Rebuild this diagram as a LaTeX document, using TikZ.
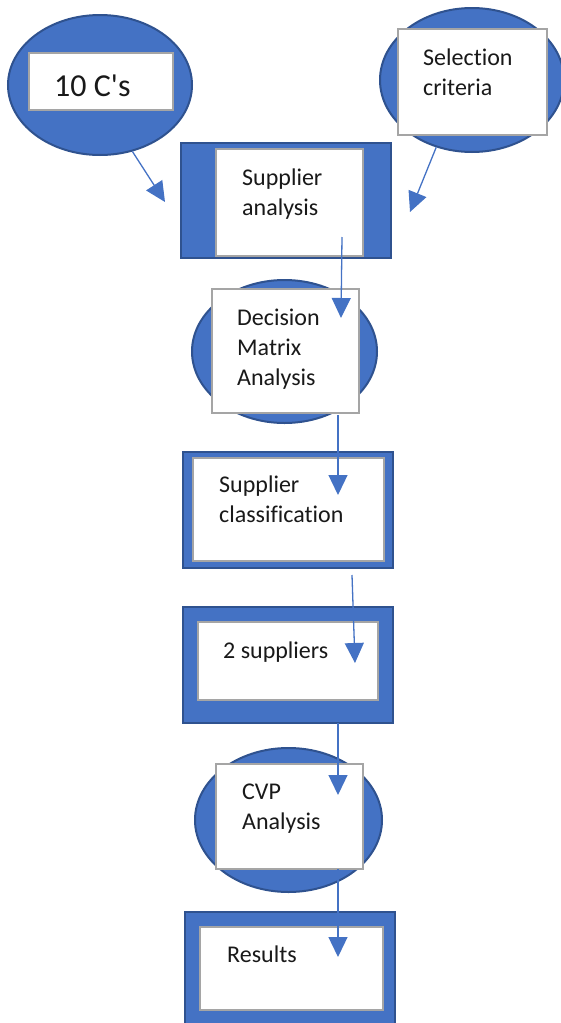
\documentclass[tikz,border=0pt]{standalone}
\usepackage{fontspec}
\setmainfont{Carlito}[Ligatures={TeXOff,CommonOff}]
\usepackage{xcolor}
\definecolor{scblue}{HTML}{4472C4}
\definecolor{scedge}{HTML}{2F528F}
\definecolor{scgrey}{HTML}{A5A5A5}
\usetikzlibrary{arrows.meta,shapes.geometric}
\tikzset{
  scoval/.style={ellipse,draw=scedge,line width=2pt,fill=scblue,inner sep=0pt},
  scframe/.style={rectangle,draw=scedge,line width=1.5pt,fill=scblue,inner sep=0pt},
  scpanel/.style={rectangle,draw=scgrey,line width=1.2pt,fill=white,inner sep=0pt},
  sctext/.style={anchor=base west,inner sep=0pt,align=left,font=\fontsize{24}{30}\selectfont,text=black!90},
  scflow/.style={-{Triangle[length=20pt,width=19pt]},draw=scblue,line width=1.3pt},
}

\begin{document}
\begin{tikzpicture}[x=1pt,y=-1pt]
\useasboundingbox (0,0) rectangle (560,1023);
 % inputs
\node[scoval,minimum width=184pt,minimum height=140pt] (tenCell) at (100,85) {};
\node[scpanel,minimum width=144pt,minimum height=57pt] (tenCbox) at (101,81.5) {};
\node[sctext,font=\fontsize{32}{38}\selectfont] (tenC) at (54,96) {10 C's};
\node[scoval,minimum width=184pt,minimum height=144pt] (critell) at (472,80) {};
\node[scpanel,minimum width=149pt,minimum height=106pt] (critbox) at (472.5,82) {};
\node[sctext] (crit) at (423,95) {Selection\\criteria};
 % supplier analysis
\node[scframe,minimum width=210pt,minimum height=115pt] (saframe) at (286,200.5) {};
\node[scpanel,minimum width=147pt,minimum height=107pt] (sabox) at (289.5,202.5) {};
\node[sctext] (sa) at (242,215) {Supplier\\analysis};
 % decision matrix
\node[scoval,minimum width=185pt,minimum height=143pt] (dmell) at (284.5,351.5) {};
\node[scpanel,minimum width=147pt,minimum height=124pt] (dmbox) at (285.5,351) {};
\node[sctext] (dm) at (237,385) {Decision\\Matrix\\Analysis};
 % classification
\node[scframe,minimum width=210pt,minimum height=116pt] (scframe) at (288,510) {};
\node[scpanel,minimum width=191pt,minimum height=103pt] (scbox) at (288.5,509.5) {};
\node[sctext] (sc) at (219,522) {Supplier\\classification};
 % two suppliers
\node[scframe,minimum width=210pt,minimum height=116pt] (twoframe) at (288,665) {};
\node[scpanel,minimum width=180pt,minimum height=78pt] (twobox) at (288,661) {};
\node[sctext] (two) at (223,658) {2 suppliers};
 % cvp
\node[scoval,minimum width=187pt,minimum height=144pt] (cvpell) at (288.5,820) {};
\node[scpanel,minimum width=147pt,minimum height=105pt] (cvpbox) at (289.5,816.5) {};
\node[sctext] (cvp) at (242,829) {CVP\\Analysis};
 % results
\node[scframe,minimum width=210pt,minimum height=116pt] (resframe) at (290,970) {};
\node[scpanel,minimum width=183pt,minimum height=83pt] (resbox) at (291.5,968.5) {};
\node[sctext] (res) at (227,962) {Results};
 % arrow ends
\coordinate (tenCend) at (165,202);
\coordinate (critend) at (410,212);
\coordinate (saout) at (342,237);
\coordinate (dmin) at (341,318);
\coordinate (dmout) at (338,415);
\coordinate (scin) at (338,495);
\coordinate (scout) at (352,575);
\coordinate (twoin) at (355,663);
\coordinate (twoout) at (338,723);
\coordinate (cvpin) at (338,795);
\coordinate (cvpout) at (338,869);
\coordinate (resin) at (338,957);
\draw[scflow] (tenCell.-64) -- (tenCend);
\draw[scflow] (critell.242) -- (critend);
\draw[scflow] (saout) -- (dmin);
\draw[scflow] (dmout) -- (scin);
\draw[scflow] (scout) -- (twoin);
\draw[scflow] (twoout) -- (cvpin);
\draw[scflow] (cvpout) -- (resin);
\end{tikzpicture}
\end{document}
